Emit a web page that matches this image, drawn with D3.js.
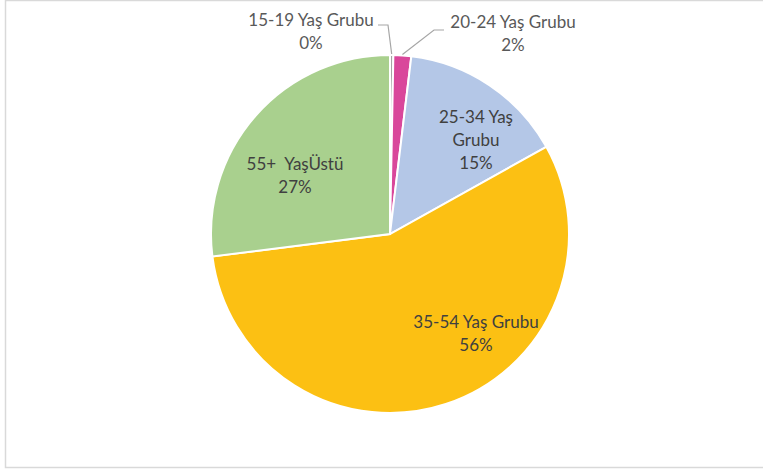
<!DOCTYPE html>
<html>
<head>
<meta charset="utf-8">
<script src="https://cdn.jsdelivr.net/npm/d3@7"></script>
<style>
  body { margin: 0; background: #fff; }
  text { font-family: Lato, "Open Sans", sans-serif; }
</style>
</head>
<body>
<div id="chart"></div>
<script>
// age groups and shares (percent)
const groups = ["15-19 Yaş Grubu", "20-24 Yaş Grubu", "25-34 Yaş Grubu", "35-54 Yaş Grubu", "55+ YaşÜstü"];
const shares = [0.3, 1.6, 15.0, 56.1, 27.0];
const shareLabels = ["0%", "2%", "15%", "56%", "27%"];
const colors = ["#A5A5A5", "#D9479B", "#B4C7E7", "#FCC013", "#A9D08E"];

const width = 763, height = 472;
const cx = 390, cy = 234, radius = 179;

const svg = d3.select("#chart").append("svg")
  .attr("width", width)
  .attr("height", height);

// chart frame
svg.append("rect")
  .attr("x", 5.5).attr("y", 0.5)
  .attr("width", width + 10).attr("height", 467)
  .attr("fill", "none")
  .attr("stroke", "#d9d9d9")
  .attr("stroke-width", 1.5);

let dataset = [];
for (let i = 0; i < groups.length; i++) {
  dataset.push({ group: groups[i], value: shares[i], label: shareLabels[i], color: colors[i] });
}

let pie = d3.pie()
  .sort(null)
  .value(d => d.value);

let arc = d3.arc()
  .innerRadius(0)
  .outerRadius(radius);

let g = svg.append("g")
  .attr("transform", "translate(" + cx + "," + cy + ")");

let arcs = pie(dataset);

g.selectAll(".slice")
  .data(arcs)
  .enter().append("path")
  .attr("class", "slice")
  .attr("d", arc)
  .attr("fill", d => d.data.color)
  .attr("stroke", "#fff")
  .attr("stroke-width", 2);

// label placement (offsets relative to center)
const labelPos = [
  { x: -79, y: -208, lines: ["15-19 Yaş Grubu"], color: "#595959" },
  { x: 123, y: -206, lines: ["20-24 Yaş Grubu"], color: "#595959" },
  { x: 86, y: -111, lines: ["25-34 Yaş", "Grubu"], color: "#404040" },
  { x: 86, y: 94, lines: ["35-54 Yaş Grubu"], color: "#404040" },
  { x: -95, y: -64, lines: ["55+  YaşÜstü"], color: "#404040" }
];

// leader lines for the small outside slices
const leaders = [
  [[-12, -209], [-2, -209], [1, -181]],
  [[54, -204], [44, -204], [12, -181]]
];
leaders.forEach((pts, i) => {
  let a = arcs[i];
  let mid = (a.startAngle + a.endAngle) / 2;
  pts[2] = [Math.sin(mid) * (radius + 1), -Math.cos(mid) * (radius + 1)];
  g.append("path")
    .attr("d", d3.line()(pts))
    .attr("fill", "none")
    .attr("stroke", "#a6a6a6")
    .attr("stroke-width", 1.2);
});

arcs.forEach((a, i) => {
  let p = labelPos[i];
  let t = g.append("text")
    .attr("text-anchor", "middle")
    .attr("font-size", 17)
    .attr("fill", p.color)
    .style("white-space", "pre");
  let lines = p.lines.concat([a.data.label]);
  lines.forEach((ln, j) => {
    t.append("tspan")
      .attr("x", p.x)
      .attr("y", p.y + j * 23)
      .text(ln);
  });
});
</script>
</body>
</html>
